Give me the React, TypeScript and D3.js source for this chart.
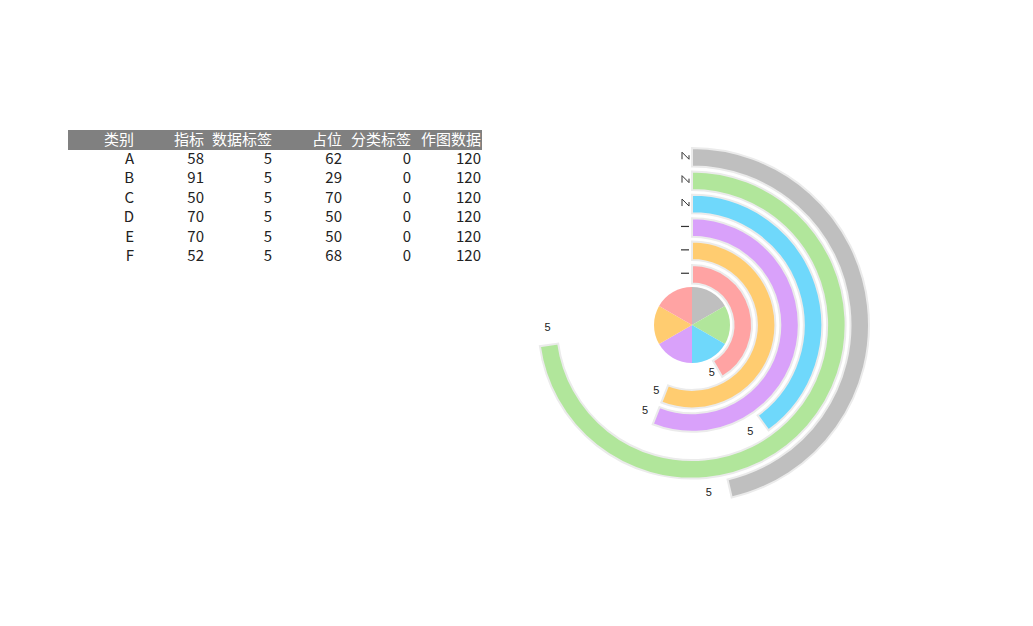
import React from "react";
import * as d3 from "d3";

const categories = ["A", "B", "C", "D", "E", "F"];
const indicator = [58, 91, 50, 70, 70, 52];
const dataLabel = [5, 5, 5, 5, 5, 5];
const placeholder = [62, 29, 70, 50, 50, 68];
const categoryLabel = [0, 0, 0, 0, 0, 0];
const plotData = [120, 120, 120, 120, 120, 120];
const headers = ["类别", "指标", "数据标签", "占位", "分类标签", "作图数据"];
const colors = ["#bfbfbf", "#b1e69b", "#6fd8fb", "#d9a1fa", "#ffcc70", "#ffa3a3"];

const W = 1033;
const H = 626;
const cx = 692;
const cy = 325;
const FONT = "'Noto Sans CJK SC', 'Microsoft YaHei', sans-serif";

export default function App() {
  // ring radius: A outermost, F innermost
  const ring = d3
    .scaleBand<string>()
    .domain([...categories].reverse())
    .range([41.5, 177])
    .paddingInner(0.21)
    .paddingOuter(0);

  const pieRing = d3
    .pie<number>()
    .sort(null)
    .startAngle(0)
    .endAngle(2 * Math.PI);

  const centerPie = d3.pie<number>().sort(null)(plotData);
  const centerArc = d3.arc<d3.PieArcDatum<number>>().innerRadius(0).outerRadius(38);

  // table
  const colRight = [134, 204, 272, 342, 411, 481];
  const tableLeft = 68;
  const headerTop = 130;
  const rowH = 19.4;
  const rows = categories.map((c, i) => [
    c,
    indicator[i],
    dataLabel[i],
    placeholder[i],
    categoryLabel[i],
    plotData[i],
  ]);

  return (
    <svg
      width={W}
      height={H}
      style={{ position: "absolute", left: 0, top: 0, background: "#fff" }}
    >
      {/* table */}
      <rect x={tableLeft} y={headerTop} width={colRight[5] + 1 - tableLeft} height={20} fill="#808080" />
      {headers.map((h, j) => (
        <text
          key={h}
          x={colRight[j]}
          y={headerTop + 15}
          textAnchor="end"
          fontSize={15}
          fill="#fff"
          fontFamily={FONT}
        >
          {h}
        </text>
      ))}
      {rows.map((r, i) =>
        r.map((v, j) => (
          <text
            key={i + "-" + j}
            x={colRight[j]}
            y={headerTop + 20 + rowH * i + 14}
            textAnchor="end"
            fontSize={15}
            fill="#222"
            fontFamily={FONT}
          >
            {v}
          </text>
        ))
      )}

      <g transform={`translate(${cx},${cy})`}>
        {/* center pie */}
        {centerPie.map((d, i) => (
          <path key={"c" + i} d={centerArc(d) || ""} fill={colors[i]} />
        ))}

        {categories.map((c, k) => {
          const ri = ring(c)!;
          const ro = ri + ring.bandwidth();
          const arcs = pieRing([categoryLabel[k], indicator[k], dataLabel[k], placeholder[k]]);
          const arcGen = d3.arc<d3.PieArcDatum<number>>().innerRadius(ri).outerRadius(ro);
          const labelPos = arcGen.centroid(arcs[2]);
          const midR = (ri + ro) / 2;
          const markY = -midR - 1;
          return (
            <g key={c}>
              <path
                d={arcGen(arcs[1]) || ""}
                fill={colors[k]}
                stroke="#ebebeb"
                strokeWidth={2}
              />
              <text
                x={labelPos[0]}
                y={labelPos[1] + 4}
                textAnchor="middle"
                fontSize={11}
                fill="#222"
                fontFamily="Arial, 'Liberation Sans', sans-serif"
              >
                {dataLabel[k]}
              </text>
              {k < 3 ? (
                <path
                  d={`M${-10},${markY + 3} L${-10},${markY - 4} L${-3},${markY + 3} L${-3},${markY - 1}`}
                  fill="none"
                  stroke="#333"
                  strokeWidth={1}
                />
              ) : (
                <path
                  d={`M${-11},${markY} L${-3},${markY}`}
                  fill="none"
                  stroke="#333"
                  strokeWidth={1.2}
                />
              )}
            </g>
          );
        })}
      </g>
    </svg>
  );
}
